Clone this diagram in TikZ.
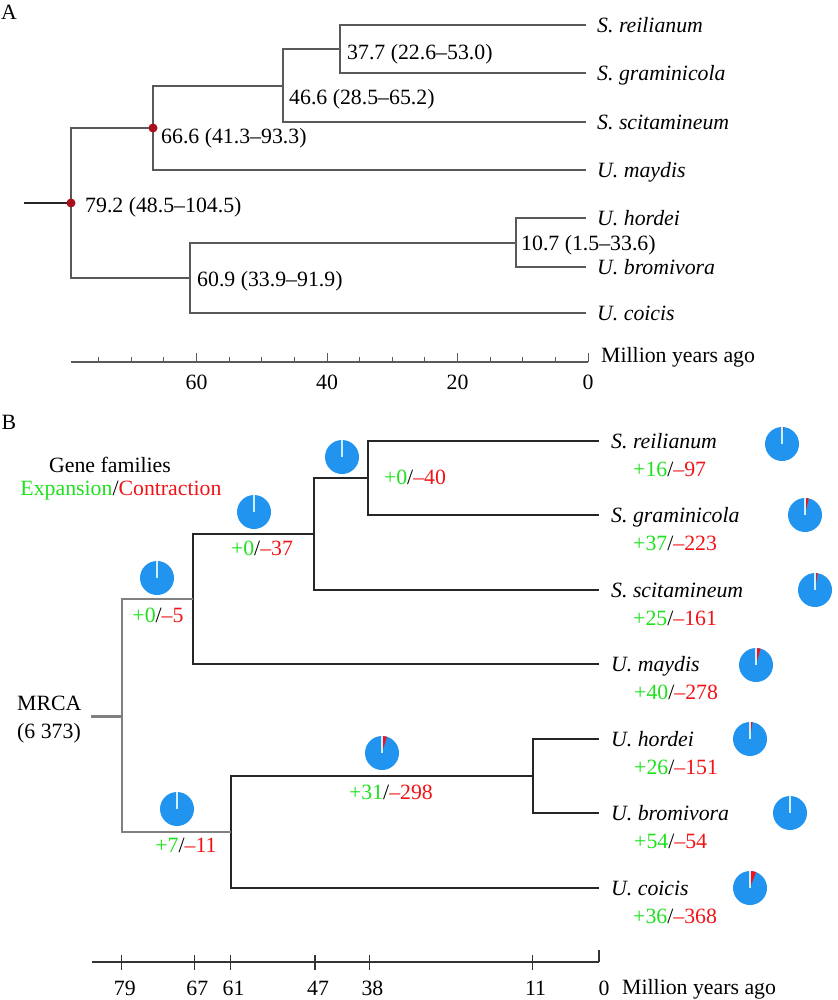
\documentclass[tikz,border=0pt]{standalone}
\usepackage{fontspec}
\setmainfont{Liberation Serif}
\usetikzlibrary{positioning}
\definecolor{pieblue}{RGB}{33,148,240}
\definecolor{expgreen}{RGB}{30,225,30}
\definecolor{conred}{RGB}{240,20,25}
\definecolor{dotred}{RGB}{170,15,30}
\definecolor{expslice}{RGB}{205,240,255}
% pie at #1, expansion #2, contraction #3 (out of 6373 families)
\newcommand{\famPie}[3]{%
  \fill[pieblue] (#1) circle (17);
  \fill[conred] (#1) -- ++(-90:17) arc (-90:{-90+#3/6373*360}:17) -- cycle;
  \fill[expslice] (#1) -- ++(-90:17) arc (-90:{-90-#2/6373*360}:17) -- cycle;
  \draw[expslice, line width=1.2pt] (#1) -- ++(-90:17);
}
\newcommand{\gain}[2]{\textcolor{expgreen}{+#1}/\textcolor{conred}{--#2}}

\begin{document}
\begin{tikzpicture}[x=1pt,y=-1pt,
    every node/.style={font=\fontsize{21.8}{25}\selectfont, inner sep=0pt},
    sp/.style={font=\fontsize{21.8}{25}\selectfont\itshape, anchor=west, text height=14.5pt, text depth=0pt},
    age/.style={anchor=west, text height=14.5pt, text depth=0pt},
    cnt/.style={text height=14.5pt, text depth=0pt},
    brA/.style={draw=black!65, line width=1.7pt},
    brB/.style={draw=black!85, line width=1.4pt},
    brR/.style={draw=black!50, line width=2.2pt},
    axB/.style={draw=black!80, line width=1.3pt}]
\useasboundingbox (0,0) rectangle (837,1000);

%%%% A
\node (A) at (9,12) {A};
\coordinate (ta1) at (586,25);
\coordinate (ta2) at (586,73);
\coordinate (ta3) at (586,122);
\coordinate (ta4) at (586,170);
\coordinate (ta5) at (586,218);
\coordinate (ta6) at (586,267);
\coordinate (ta7) at (586,313);
\coordinate (a377) at (340,49);
\coordinate (a466) at (283,86);
\coordinate (a666) at (153,128);
\coordinate (a107) at (516,243);
\coordinate (a609) at (190,278);
\coordinate (a792) at (71,203);
\coordinate (a0) at (24,203);

\draw[brA] (a377) |- (ta1) (a377) |- (ta2);
\draw[brA] (a466) |- (a377) (a466) |- (ta3);
\draw[brA] (a666) |- (a466) (a666) |- (ta4);
\draw[brA] (a107) |- (ta5) (a107) |- (ta6);
\draw[brA] (a609) |- (a107) (a609) |- (ta7);
\draw[brA] (a792) |- (a666) (a792) |- (a609);
\draw[black!85, line width=1.4pt] (a0) -- (a792);
\fill[dotred] (a666) circle (4.5);
\fill[dotred] (a792) circle (4.5);

\node[sp, right=11pt of ta1] (sa1) {S. reilianum};
\node[sp, right=11pt of ta2] (sa2) {S. graminicola};
\node[sp, right=11pt of ta3] (sa3) {S. scitamineum};
\node[sp, right=11pt of ta4] (sa4) {U. maydis};
\node[sp, right=11pt of ta5] (sa5) {U. hordei};
\node[sp, right=11pt of ta6] (sa6) {U. bromivora};
\node[sp, right=11pt of ta7] (sa7) {U. coicis};

\node[age] (l377) at (347,52) {37.7 (22.6--53.0)};
\node[age] (l466) at (289,97) {46.6 (28.5--65.2)};
\node[age] (l666) at (161,136) {66.6 (41.3--93.3)};
\node[age] (l792) at (85,205) {79.2 (48.5--104.5)};
\node[age] (l609) at (197,279) {60.9 (33.9--91.9)};
\node[age] (l107) at (521,243) {10.7 (1.5--33.6)};

% time axis A
\coordinate (xa0) at (71,362);
\coordinate (xa1) at (588,362);
\draw[black!65, line width=2pt] (xa0) -- (xa1);
\foreach \t in {5,10,...,75} \draw[black!65, line width=1pt] ({588-6.525*\t},362) -- ++(0,-5);
\foreach \t in {0,20,40,60} {
  \draw[black!65, line width=1pt] ({588-6.525*\t},362) -- ++(0,-9);
  \node (ma\t) at ({588-6.525*\t},382) {\t};
}
\node[age] (mya) at (601,355) {Million years ago};

%%%% B
\node (B) at (9,422) {B};
\node[anchor=base] (gf) at (110,472) {Gene families};
\node[anchor=base] (ec) at (121,495) {\textcolor{expgreen}{Expansion}/\textcolor{conred}{Contraction}};
\node[anchor=base west] (mrca) at (17,710) {MRCA};
\node[anchor=base west] (mrcan) at (17,738) {(6 373)};

\coordinate (tb1) at (599,441);
\coordinate (tb2) at (599,515);
\coordinate (tb3) at (599,590);
\coordinate (tb4) at (599,664);
\coordinate (tb5) at (599,739);
\coordinate (tb6) at (599,813);
\coordinate (tb7) at (599,888);
\coordinate (b38) at (368,478);
\coordinate (b47) at (314,534);
\coordinate (b67) at (193,599);
\coordinate (b11) at (533,776);
\coordinate (b61) at (231,832);
\coordinate (b79) at (122,716);
\coordinate (b0) at (91,716);

\draw[brB] (b38) |- (tb1) (b38) |- (tb2);
\draw[brB] (b47) |- (b38) (b47) |- (tb3);
\draw[brB] (b67) |- (b47) (b67) |- (tb4);
\draw[brB] (b11) |- (tb5) (b11) |- (tb6);
\draw[brB] (b61) |- (b11) (b61) |- (tb7);
\draw[brR] (b79) |- (b67) (b79) |- (b61);
\draw[black!50, line width=3pt] (b0) -- (b79);

\node[sp, right=12pt of tb1] (sb1) {S. reilianum};
\node[sp, right=12pt of tb2] (sb2) {S. graminicola};
\node[sp, right=12pt of tb3] (sb3) {S. scitamineum};
\node[sp, right=12pt of tb4] (sb4) {U. maydis};
\node[sp, right=12pt of tb5] (sb5) {U. hordei};
\node[sp, right=12pt of tb6] (sb6) {U. bromivora};
\node[sp, right=12pt of tb7] (sb7) {U. coicis};

\node[cnt, anchor=west] (ct1) at (633,469) {\gain{16}{97}};
\node[cnt, anchor=west] (ct2) at (633,543) {\gain{37}{223}};
\node[cnt, anchor=west] (ct3) at (633,618) {\gain{25}{161}};
\node[cnt, anchor=west] (ct4) at (634,692) {\gain{40}{278}};
\node[cnt, anchor=west] (ct5) at (634,767) {\gain{26}{151}};
\node[cnt, anchor=west] (ct6) at (634,841) {\gain{54}{54}};
\node[cnt, anchor=west] (ct7) at (633,916) {\gain{36}{368}};

\node[cnt] (c38) at (415,477) {\gain{0}{40}};
\node[cnt] (c47) at (262,548) {\gain{0}{37}};
\node[cnt] (c67) at (158,615) {\gain{0}{5}};
\node[cnt] (c61) at (186,845) {\gain{7}{11}};
\node[cnt] (c11) at (391,792) {\gain{31}{298}};

% pies
\coordinate (p38) at (342,457);
\coordinate (p47) at (254,512);
\coordinate (p67) at (157,578);
\coordinate (p61) at (177,809);
\coordinate (p11) at (382,753);
\coordinate (pt1) at (782,444);
\coordinate (pt2) at (805,515);
\coordinate (pt3) at (815,590);
\coordinate (pt4) at (756,665);
\coordinate (pt5) at (750,739);
\coordinate (pt6) at (790,813);
\coordinate (pt7) at (750,888);
\famPie{p38}{0}{40}
\famPie{p47}{0}{37}
\famPie{p67}{0}{5}
\famPie{p61}{7}{11}
\famPie{p11}{31}{298}
\famPie{pt1}{16}{97}
\famPie{pt2}{37}{223}
\famPie{pt3}{25}{161}
\famPie{pt4}{40}{278}
\famPie{pt5}{26}{151}
\famPie{pt6}{54}{54}
\famPie{pt7}{36}{368}

% time axis B
\coordinate (xb0) at (92,962);
\coordinate (xb1) at (599,962);
\draw[axB] (xb0) -- (xb1);
\foreach \t in {79,67,61,47,38,11} {
  \draw[axB] ({599-6.04*\t},955) -- ++(0,15);
  \node (mb\t) at ({602-6.04*\t},988) {\t};
}
\draw[axB] (xb1) -- ++(0,-12);
\node (mb0) at (604,988) {0};
\node[age] (myb) at (622,987) {Million years ago};
\end{tikzpicture}
\end{document}
